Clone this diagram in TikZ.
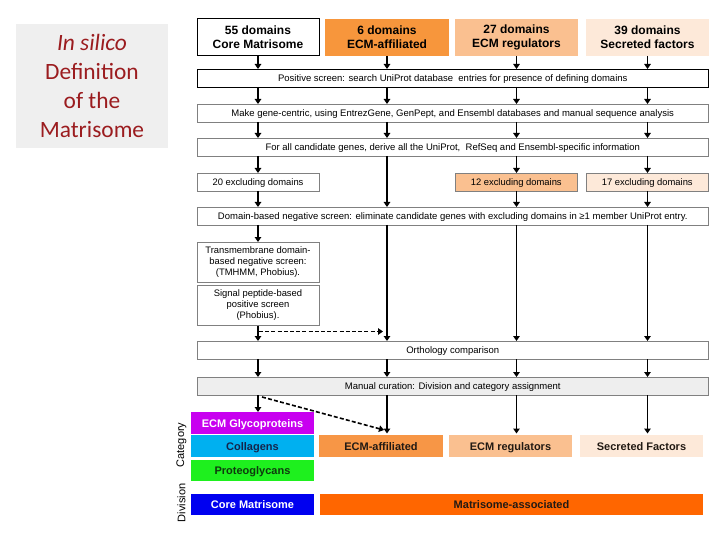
\documentclass[tikz,border=0pt]{standalone}
\usepackage{fontspec}
\setmainfont{Liberation Sans}
\newfontfamily\carlito{Carlito}
\usetikzlibrary{arrows.meta}
\definecolor{titlegray}{HTML}{EFEFEF}
\definecolor{titlered}{HTML}{9B1C1F}
\definecolor{orA}{HTML}{F7963C}
\definecolor{orB}{HTML}{F79646}
\definecolor{peach}{HTML}{FAC090}
\definecolor{pale}{HTML}{FDE9D9}
\definecolor{glyco}{HTML}{C800F0}
\definecolor{colla}{HTML}{00B0F0}
\definecolor{proteo}{HTML}{1EF01E}
\definecolor{corem}{HTML}{0000F0}
\definecolor{massoc}{HTML}{FF6600}
\definecolor{barfill}{HTML}{EEEEEE}
\definecolor{bordgray}{HTML}{808080}
\definecolor{navytext}{HTML}{15244A}
\definecolor{greentext}{HTML}{0E3A0E}
\definecolor{darktext}{HTML}{221A14}
\tikzset{
  rbox/.style={rectangle, inner sep=0pt, outer sep=0pt, anchor=north west, align=center},
  onel/.style={text height=6.6pt, text depth=0.2pt},
  topbox/.style={rbox, minimum height=37pt, font=\bfseries\fontsize{12}{13.6}\selectfont},
  bar/.style={rbox, onel, draw=bordgray, line width=0.9pt, fill=white, minimum width=511.5pt, minimum height=18pt, font=\fontsize{9.5}{11}\selectfont},
  smallbox/.style={rbox, draw=bordgray, line width=0.9pt, minimum width=122pt, minimum height=18pt, font=\fontsize{9.4}{11}\selectfont},
  catbox/.style={rbox, minimum height=22pt, text height=8pt, text depth=0pt, font=\bfseries\fontsize{11}{13}\selectfont},
  arr/.style={line width=1.7pt, -{Triangle[length=5pt,width=6.5pt]}},
  dasharr/.style={line width=1.6pt, dash pattern=on 4pt off 2.2pt, -{Triangle[length=5pt,width=6.5pt]}},
}
\begin{document}
\begin{tikzpicture}[x=1pt,y=-1pt]
\useasboundingbox (0,0) rectangle (720,540);
% title
\node[rbox, fill=titlegray, minimum width=152pt, minimum height=124pt] (title) at (16,24) {};
\node[text=titlered, align=center, font=\carlito\fontsize{23.4}{28.7}\selectfont] (titletext) at (92,86) {\textit{In silico}\\Definition\\of the\\Matrisome};
% top boxes
\node[topbox, draw=black, line width=1pt, minimum width=122pt] (top1) at (197,19) {55 domains\\Core Matrisome};
\node[topbox, fill=orA, minimum width=124pt] (top2) at (325,19) {6 domains\\ECM-affiliated};
\node[topbox, fill=peach, minimum width=123pt] (top3) at (455,19) {27 domains\\ECM regulators};
\node[topbox, fill=pale, minimum width=123pt] (top4) at (586,19) {39 domains\\Secreted factors};
% bars
\node[bar, draw=black] (pos) at (197,69) {Positive screen: search UniProt database\ \ entries for presence of defining domains};
\node[bar] (make) at (197,104) {Make gene-centric, using EntrezGene, GenPept, and Ensembl databases and manual sequence analysis};
\node[bar] (forall) at (197,138) {For all candidate genes, derive all the UniProt,\ \ RefSeq and Ensembl-specific information};
\node[smallbox, onel] (ex1) at (197,173) {20 excluding domains};
\node[smallbox, onel, fill=peach, minimum width=122.5pt] (ex3) at (455,173) {12 excluding domains};
\node[smallbox, onel, fill=pale, minimum width=122.5pt] (ex4) at (586,173) {17 excluding domains};
\node[bar] (domain) at (197,207) {Domain-based negative screen: eliminate candidate genes with excluding domains in ≥1 member UniProt entry.};
\node[smallbox, minimum height=40pt] (tm) at (197,242) {Transmembrane domain-\\based negative screen:\\(TMHMM, Phobius).};
\node[smallbox, minimum height=40pt] (sig) at (197,285.5) {Signal peptide-based\\positive screen\\(Phobius).};
\node[bar] (ortho) at (197,341) {Orthology comparison};
\node[bar, fill=barfill] (manual) at (197,377) {Manual curation: Division and category assignment};
% category boxes
\node[catbox, fill=glyco, text=white, minimum width=123pt] (gly) at (191,412) {ECM Glycoproteins};
\node[catbox, fill=colla, text=navytext, minimum width=123pt] (col) at (191,435) {Collagens};
\node[catbox, fill=proteo, text=greentext, minimum width=123pt, minimum height=21pt] (pro) at (191,460) {Proteoglycans};
\node[catbox, fill=corem, text=white, minimum width=123pt, minimum height=21pt] (core) at (191,494) {Core Matrisome};
\node[catbox, fill=orB, text=darktext, minimum width=124pt] (eaff) at (319,435) {ECM-affiliated};
\node[catbox, fill=peach, text=darktext, minimum width=123pt] (ereg) at (449,435) {ECM regulators};
\node[catbox, fill=pale, text=darktext, minimum width=123pt] (secr) at (580,435) {Secreted Factors};
\node[catbox, fill=massoc, text=darktext, minimum width=383pt, minimum height=21pt] (massoc) at (320,494) {Matrisome-associated};
\node[rotate=90, font=\fontsize{11}{13}\selectfont] (catlab) at (181.5,445) {Category};
\node[rotate=90, font=\fontsize{11}{13}\selectfont] (divlab) at (181.5,503) {Division};
% column 1
\draw[arr] (top1.south) -- (pos.north -| top1.south);
\draw[arr] (pos.south -| top1.south) -- (make.north -| top1.south);
\draw[arr] (make.south -| top1.south) -- (forall.north -| top1.south);
\draw[arr] (forall.south -| top1.south) -- (ex1.north -| top1.south);
\draw[arr] (ex1.south -| top1.south) -- (domain.north -| top1.south);
\draw[arr] (domain.south -| top1.south) -- (tm.north -| top1.south);
\draw[arr] (sig.south -| top1.south) -- (ortho.north -| top1.south);
\draw[arr] (ortho.south -| top1.south) -- (manual.north -| top1.south);
\draw[arr] (manual.south -| top1.south) -- (gly.north -| top1.south);
% column 2
\draw[arr] (top2.south) -- (pos.north -| top2.south);
\draw[arr] (pos.south -| top2.south) -- (make.north -| top2.south);
\draw[arr] (make.south -| top2.south) -- (forall.north -| top2.south);
\draw[arr] (forall.south -| top2.south) -- (domain.north -| top2.south);
\draw[arr] (domain.south -| top2.south) -- (ortho.north -| top2.south);
\draw[arr] (ortho.south -| top2.south) -- (manual.north -| top2.south);
\draw[arr] (manual.south -| top2.south) -- ([yshift=1.5pt]eaff.north -| top2.south);
% column 3
\draw[arr] (top3.south) -- (pos.north -| top3.south);
\draw[arr] (pos.south -| top3.south) -- (make.north -| top3.south);
\draw[arr] (make.south -| top3.south) -- (forall.north -| top3.south);
\draw[arr] (forall.south -| top3.south) -- (ex3.north -| top3.south);
\draw[arr] (ex3.south -| top3.south) -- (domain.north -| top3.south);
\draw[arr] (domain.south -| top3.south) -- (ortho.north -| top3.south);
\draw[arr] (ortho.south -| top3.south) -- (manual.north -| top3.south);
\draw[arr] (manual.south -| top3.south) -- ([yshift=1.5pt]ereg.north -| top3.south);
% column 4
\draw[arr] (top4.south) -- (pos.north -| top4.south);
\draw[arr] (pos.south -| top4.south) -- (make.north -| top4.south);
\draw[arr] (make.south -| top4.south) -- (forall.north -| top4.south);
\draw[arr] (forall.south -| top4.south) -- (ex4.north -| top4.south);
\draw[arr] (ex4.south -| top4.south) -- (domain.north -| top4.south);
\draw[arr] (domain.south -| top4.south) -- (ortho.north -| top4.south);
\draw[arr] (ortho.south -| top4.south) -- (manual.north -| top4.south);
\draw[arr] (manual.south -| top4.south) -- ([yshift=1.5pt]secr.north -| top4.south);
% dashed connectors
\coordinate (d1) at (259,331.5);
\draw[dasharr, shorten >=4pt] (d1) -- (d1 -| top2.south);
\coordinate (d2) at (262,397);
\coordinate (d3) at (384,430);
\draw[dasharr] (d2) -- (d3);
\end{tikzpicture}
\end{document}
